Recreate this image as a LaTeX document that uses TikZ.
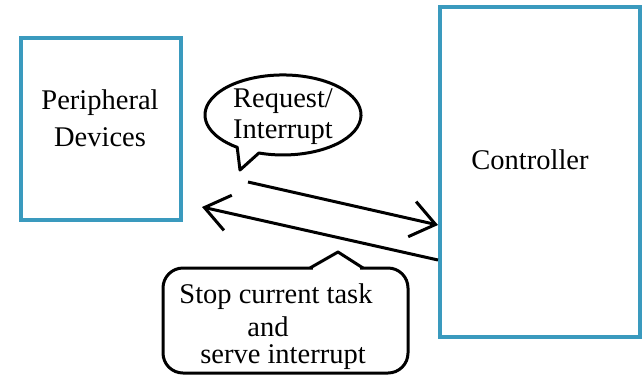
\documentclass[tikz,border=0pt]{standalone}
\usepackage{fontspec}
\setmainfont{Liberation Serif}
\newfontfamily\timesfont{Liberation Serif}
\usetikzlibrary{arrows.meta}
\definecolor{boxblue}{RGB}{58,154,190}
\tikzset{
  blockbox/.style={draw=boxblue, line width=4pt, fill=white, minimum width=#1, inner sep=0pt},
  lbl/.style={font=\timesfont\fontsize{28.5}{31}\selectfont, align=center, inner sep=0pt},
  callout/.style={draw=black, line width=3pt, fill=white, line join=round},
  conn/.style={line width=3pt, -{Straight Barb[length=24pt,width=36pt]}},
}
\begin{document}
\begin{tikzpicture}[x=1pt,y=-1pt]
\useasboundingbox (0,0) rectangle (644,381);
% boxes
\node[blockbox=160pt, minimum height=182pt] (periph) at (101,129) {};
\node[lbl] (periphtxt) at (100,118) {Peripheral\\[6pt]Devices};
\node[blockbox=200pt, minimum height=330pt] (ctrl) at (540,172) {};
\node[lbl] (ctrltxt) at (530,160) {Controller};
% ellipse callout
\draw[callout] (237.2,147.4) -- (240,170) -- (258.9,153.0) arc[start angle=108, end angle=-234, x radius=78, y radius=40] -- cycle;
\node[lbl] (reqtxt) at (283,117) {Request/\\[0pt]Interrupt};
% rounded callout
\node[callout, rectangle, rounded corners=20pt, minimum width=245pt, minimum height=105pt] (stopbox) at (285.5,320.5) {};
\fill[white] (313,266) rectangle (360,270.5);
\draw[line width=3pt, line join=round] (310,268) -- (338,252) -- (363,268);
\node[lbl] (stoptxt1) at (276,297) {Stop current task};
\node[lbl] (stoptxt2) at (268,327) {and};
\node[lbl] (stoptxt3) at (283,357) {serve interrupt};
% arrows
\coordinate (reqstart) at (248,182);
\coordinate (reqend) at (ctrl.west |- 0,225);
\coordinate (ackstart) at (ctrl.west |- 0,260);
\coordinate (ackend) at (202,207);
\draw[conn] (reqstart) -- (reqend);
\draw[conn] (ackstart) -- (ackend);
\end{tikzpicture}
\end{document}
